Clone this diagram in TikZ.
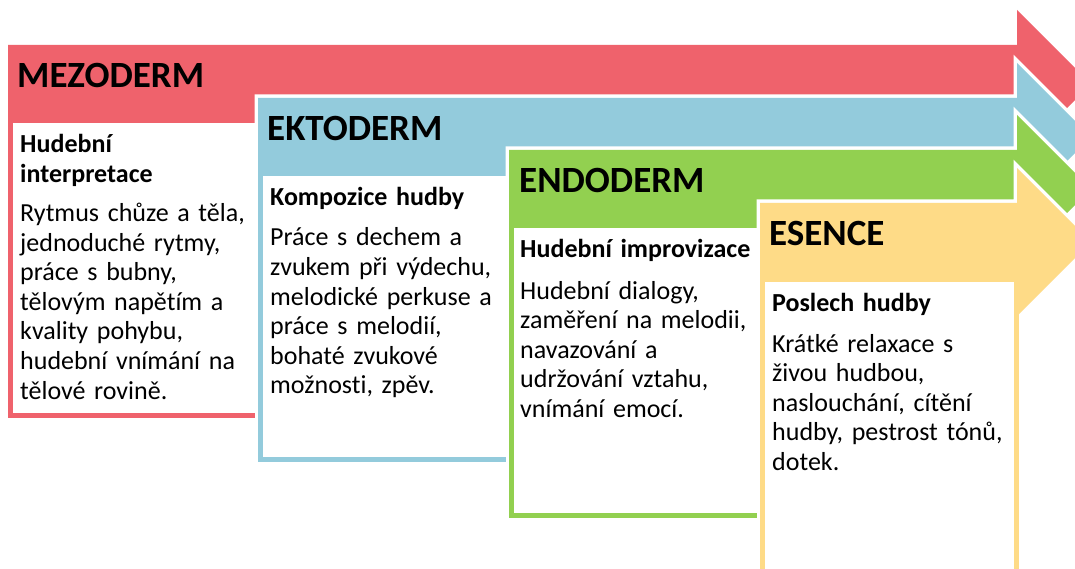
\documentclass[tikz,border=0pt]{standalone}
\usepackage{fontspec}
\setmainfont{Carlito}[Ligatures=NoCommon, WordSpace=0.8]
\usepackage{tikz}

\definecolor{mezored}{HTML}{EF626C}
\definecolor{ektoblue}{HTML}{93CBDC}
\definecolor{endogreen}{HTML}{92D050}
\definecolor{esenyellow}{HTML}{FEDB87}

\begin{document}
\begin{tikzpicture}[x=1pt, y=-1pt,
  headtext/.style={anchor=base west, inner sep=0pt, font=\fontsize{37}{40}\selectfont\bfseries},
  titletext/.style={anchor=base west, inner sep=0pt, text width=240pt, align=left, font=\fontsize{26}{29.5}\selectfont\bfseries},
  bodytext/.style={anchor=base west, inner sep=0pt, text width=240pt, align=left, font=\fontsize{26}{29.5}\selectfont}]
\clip (0,0) rectangle (1075,569);

% staggered arrows with their cards
\foreach \col/\L/\T/\B in {mezored/8/45/418, ektoblue/258/98/462, endogreen/509/150/518, esenyellow/760/203/620}{
  \draw[white, line width=7pt, line join=miter] (\L,\T) -- (1017,\T) -- (1017,\T-35) -- (1091,\T+39) -- (1017,\T+113) -- (1017,\T+78) -- (\L,\T+78) -- cycle;
  \draw[white, line width=12pt] (\L+2.5,\T+76) rectangle (1016,\B-2.5);
  \fill[\col] (\L,\T) -- (1017,\T) -- (1017,\T-35) -- (1091,\T+39) -- (1017,\T+113) -- (1017,\T+78) -- (\L,\T+78) -- cycle;
  \draw[\col, line width=5pt, fill=white] (\L+2.5,\T+76) rectangle (1016,\B-2.5);
}

\node[headtext] (mezoHead) at (17,88) {MEZODERM};
\node[titletext] (mezoTitle) at (20,153) {Hudební\\interpretace};
\node[bodytext] (mezoText) at (20,222) {Rytmus chůze a těla,\\jednoduché rytmy,\\práce s bubny,\\tělovým napětím a\\kvality pohybu,\\hudební vnímání na\\tělové rovině.};

\node[headtext] (ektoHead) at (267,141) {EKTODERM};
\node[titletext] (ektoTitle) at (270,206) {Kompozice hudby};
\node[bodytext] (ektoText) at (270,246) {Práce s dechem a\\zvukem při výdechu,\\melodické perkuse a\\práce s melodií,\\bohaté zvukové\\možnosti, zpěv.};

\node[headtext] (endoHead) at (519,193) {ENDODERM};
\node[titletext] (endoTitle) at (520,258) {Hudební improvizace};
\node[bodytext] (endoText) at (520,299) {Hudební dialogy,\\zaměření na melodii,\\navazování a\\udržování vztahu,\\vnímání emocí.};

\node[headtext] (esenHead) at (769,246) {ESENCE};
\node[titletext] (esenTitle) at (772,311) {Poslech hudby};
\node[bodytext] (esenText) at (772,352) {Krátké relaxace s\\živou hudbou,\\naslouchání, cítění\\hudby, pestrost tónů,\\dotek.};
\end{tikzpicture}
\end{document}
